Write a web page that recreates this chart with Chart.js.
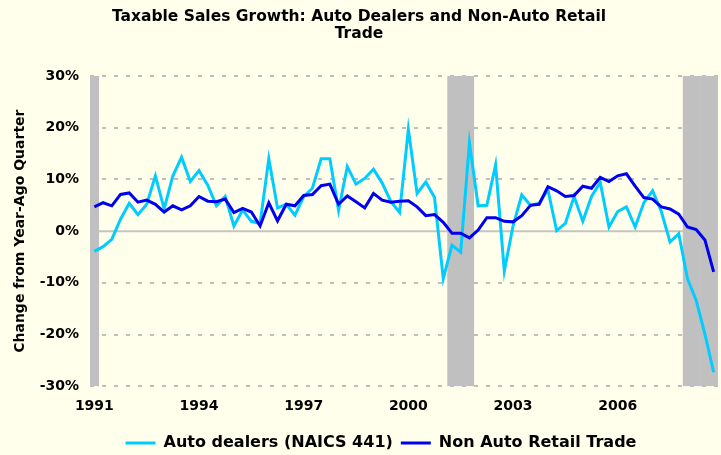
<!DOCTYPE html>
<html>
<head>
<meta charset="utf-8">
<script src="https://cdn.jsdelivr.net/npm/chart.js@4.4.1/dist/chart.umd.min.js"></script>
<style>
  html, body { margin: 0; padding: 0; background: #FFFFEC; }
  #wrap { width: 721px; height: 455px; }
</style>
</head>
<body>
<div id="wrap"><canvas id="salesChart"></canvas></div>
<script>
// Quarters on the x axis
const quarters = [
  "1991Q1","1991Q2","1991Q3","1991Q4","1992Q1","1992Q2","1992Q3","1992Q4",
  "1993Q1","1993Q2","1993Q3","1993Q4","1994Q1","1994Q2","1994Q3","1994Q4",
  "1995Q1","1995Q2","1995Q3","1995Q4","1996Q1","1996Q2","1996Q3","1996Q4",
  "1997Q1","1997Q2","1997Q3","1997Q4","1998Q1","1998Q2","1998Q3","1998Q4",
  "1999Q1","1999Q2","1999Q3","1999Q4","2000Q1","2000Q2","2000Q3","2000Q4",
  "2001Q1","2001Q2","2001Q3","2001Q4","2002Q1","2002Q2","2002Q3","2002Q4",
  "2003Q1","2003Q2","2003Q3","2003Q4","2004Q1","2004Q2","2004Q3","2004Q4",
  "2005Q1","2005Q2","2005Q3","2005Q4","2006Q1","2006Q2","2006Q3","2006Q4",
  "2007Q1","2007Q2","2007Q3","2007Q4","2008Q1","2008Q2","2008Q3","2008Q4"
];
const tickYears = ["1991","1994","1997","2000","2003","2006"];

// Year-over-year change, percent
const autoDealers = [
  -3.9, -3.0, -1.6,  2.3,  5.4,  3.2,  5.2, 10.7,
   4.3, 10.7, 14.3,  9.6, 11.7,  8.9,  4.9,  6.7,
   1.0,  4.1,  1.9,  1.5, 14.0,  4.5,  5.2,  3.1,
   6.7,  8.3, 14.0, 14.0,  4.0, 12.5,  9.1, 10.2,
  12.0,  9.3,  5.7,  3.6, 19.7,  7.3,  9.5,  6.5,
  -9.2, -2.7, -4.1, 17.1,  4.9,  5.0, 12.8, -7.7,
   1.0,  7.0,  5.0,  5.4,  8.0,  0.1,  1.5,  6.7,
   1.9,  6.7,  9.4,  0.8,  3.8,  4.7,  0.8,  5.5,
   7.8,  3.8, -2.1, -0.5, -9.2, -13.4, -19.9, -27.3
];
const nonAutoRetail = [
   4.7,  5.5,  4.9,  7.1,  7.4,  5.6,  6.0,  5.2,
   3.7,  4.9,  4.1,  4.9,  6.7,  5.8,  5.7,  6.2,
   3.6,  4.4,  3.7,  1.0,  5.5,  2.0,  5.2,  4.9,
   6.9,  7.1,  8.8,  9.1,  5.2,  6.8,  5.7,  4.5,
   7.3,  6.0,  5.6,  5.8,  5.9,  4.7,  3.0,  3.2,
   1.7, -0.4, -0.4, -1.3,  0.2,  2.6,  2.6,  1.9,
   1.8,  3.0,  5.0,  5.2,  8.6,  7.8,  6.7,  6.9,
   8.7,  8.3, 10.4,  9.6, 10.7, 11.1,  8.7,  6.5,
   6.2,  4.7,  4.3,  3.3,  0.8,  0.3, -1.7, -7.9
];

// Recession quarters (gray bands)
const recessionQuarters = ["1991Q1","2001Q2","2001Q3","2001Q4","2008Q1","2008Q2","2008Q3","2008Q4"];

const Y_MIN = -30, Y_MAX = 30;
const FONT = "'DejaVu Sans', Verdana, sans-serif";

const recessionBands = quarters.map(q => recessionQuarters.includes(q) ? [Y_MIN, Y_MAX] : null);

// solid zero line (other grid lines are dashed)
const zeroLine = {
    id: "zeroLine",
    beforeDatasetsDraw(chart) {
        const { ctx, chartArea, scales } = chart;
        const py = scales.y.getPixelForValue(0);
        ctx.save();
        ctx.strokeStyle = "#C4C4C4";
        ctx.lineWidth = 2;
        ctx.beginPath();
        ctx.moveTo(chartArea.left, py);
        ctx.lineTo(chartArea.right, py);
        ctx.stroke();
        ctx.restore();
    }
};

// legend sits a bit right of centre in the original
const legendShift = {
    id: "legendShift",
    afterLayout(chart) {
        const lg = chart.legend;
        lg.left += 22;
        lg.right += 22;
    }
};

new Chart(document.getElementById("salesChart"), {
    type: "line",
    data: {
        labels: quarters,
        datasets: [
            {
                label: "Auto dealers (NAICS 441)",
                data: autoDealers,
                borderColor: "#00CCFF",
                backgroundColor: "#00CCFF",
                borderWidth: 3,
                pointRadius: 0,
                tension: 0,
                order: 2
            },
            {
                label: "Non Auto Retail Trade",
                data: nonAutoRetail,
                borderColor: "#0000F0",
                backgroundColor: "#0000F0",
                borderWidth: 3,
                pointRadius: 0,
                tension: 0,
                order: 1
            },
            {
                type: "bar",
                label: "Recession",
                data: recessionBands,
                backgroundColor: "#C0C0C0",
                borderWidth: 0,
                barPercentage: 1,
                categoryPercentage: 1,
                order: 3
            }
        ]
    },
    options: {
        responsive: true,
        maintainAspectRatio: false,
        animation: false,
        devicePixelRatio: 1,
        layout: { padding: { left: 0, right: 3, top: 0, bottom: -6 } },
        scales: {
            x: {
                offset: true,
                afterFit: (scale) => { scale.paddingLeft = 0; scale.paddingRight = 0; },
                grid: { display: false, drawTicks: false },
                border: { display: false },
                ticks: {
                    autoSkip: false,
                    maxRotation: 0,
                    padding: 12,
                    color: "#000",
                    font: { family: FONT, size: 14, weight: "bold" },
                    callback: function (val) {
                        const lbl = this.getLabelForValue(val);
                        const yr = lbl.slice(0, 4);
                        return lbl.endsWith("Q1") && tickYears.includes(yr) ? yr : "";
                    }
                }
            },
            y: {
                min: Y_MIN,
                max: Y_MAX,
                afterFit: (scale) => { scale.width = 90; },
                grid: {
                    color: (c) => c.tick && c.tick.value === 0 ? "rgba(0,0,0,0)" : "#BEBEBE",
                    lineWidth: 2,
                    drawTicks: false
                },
                border: { display: false, dash: [4, 8] },
                ticks: {
                    stepSize: 10,
                    padding: 11,
                    color: "#000",
                    font: { family: FONT, size: 14, weight: "bold" },
                    callback: (v) => v + "%"
                },
                title: {
                    display: true,
                    text: "Change from Year-Ago Quarter",
                    color: "#000",
                    padding: { top: 12, bottom: 0 },
                    font: { family: FONT, size: 14, weight: "bold" }
                }
            }
        },
        plugins: {
            title: {
                display: true,
                text: ["Taxable Sales Growth: Auto Dealers and Non-Auto Retail", "Trade"],
                color: "#000",
                font: { family: FONT, size: 15.5, weight: "bold", lineHeight: 1.1 },
                padding: { top: 8, bottom: 34 }
            },
            legend: {
                position: "bottom",
                labels: {
                    boxWidth: 30,
                    boxHeight: 3,
                    padding: 8,
                    color: "#000",
                    font: { family: FONT, size: 16, weight: "bold" },
                    filter: (item) => item.datasetIndex !== 2,
                    sort: (a, b) => a.datasetIndex - b.datasetIndex,
                    generateLabels: (chart) => {
                        const items = Chart.defaults.plugins.legend.labels.generateLabels(chart);
                        items.forEach(it => { it.lineWidth = 0; });
                        return items;
                    }
                }
            },
            tooltip: { enabled: false }
        }
    },
    plugins: [zeroLine, legendShift]
});
</script>
</body>
</html>
